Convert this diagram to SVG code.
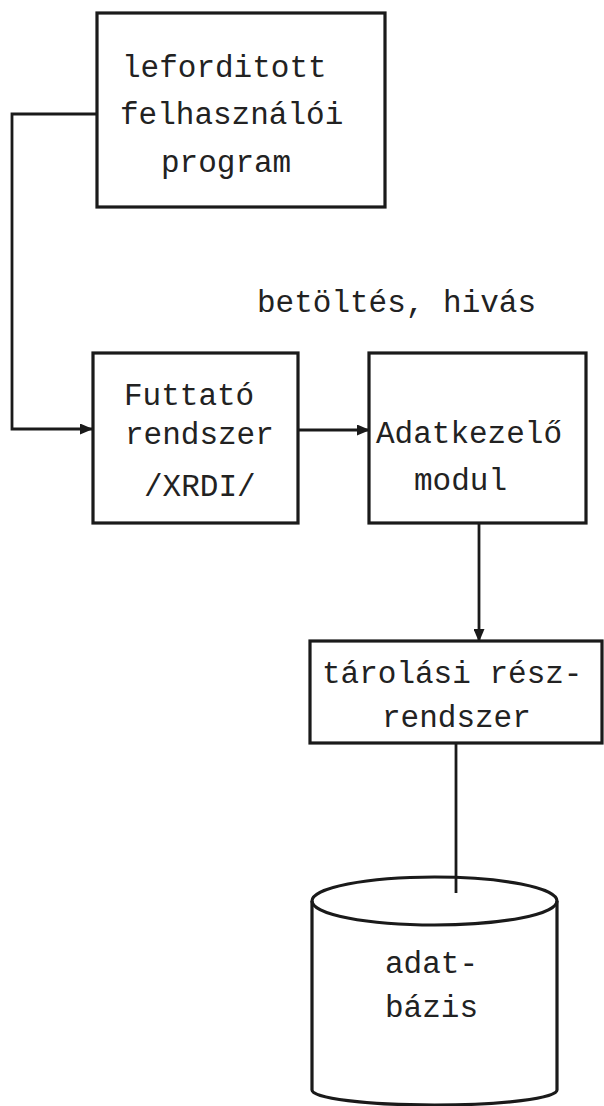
<svg xmlns="http://www.w3.org/2000/svg" width="604" height="1106" viewBox="0 0 604 1106">
<style>
.box{fill:none;stroke:#1a1a1a;stroke-width:3.2}
.ln{fill:none;stroke:#1a1a1a;stroke-width:2.8}
text{font-family:"Liberation Mono","Courier New",monospace;font-size:31px;fill:#222}
</style>
<defs>
<marker id="ah" markerWidth="13" markerHeight="11" refX="12" refY="5.5" orient="auto" markerUnits="userSpaceOnUse">
<path d="M0,0 L13,5.5 L0,11 Z" fill="#1a1a1a"/>
</marker>
</defs>
<rect width="604" height="1106" fill="#ffffff"/>
<g id="connectors">
<path class="ln" d="M97,114 H12 V429 H92" marker-end="url(#ah)"/>
<path class="ln" d="M298,430 H369" marker-end="url(#ah)"/>
<path class="ln" d="M479,523 V641" marker-end="url(#ah)"/>
<path class="ln" d="M456,743 V893"/>
</g>
<g id="label-betoltes">
<text x="257" y="312">betöltés, hivás</text>
</g>
<g id="node-program">
<rect class="box" x="97" y="13" width="288" height="194"/>
<text x="122" y="77">leforditott</text>
<text x="120" y="124">felhasználói</text>
<text x="161" y="172">program</text>
</g>
<g id="node-futtato">
<rect class="box" x="93" y="353" width="205" height="170"/>
<text x="124" y="405">Futtató</text>
<text x="125" y="444">rendszer</text>
<text x="144" y="496">/XRDI/</text>
</g>
<g id="node-adatkezelo">
<rect class="box" x="369" y="353" width="217" height="170"/>
<text x="376" y="443">Adatkezelő</text>
<text x="414" y="490">modul</text>
</g>
<g id="node-tarolasi">
<rect class="box" x="310" y="641" width="292" height="102"/>
<text x="322" y="683">tárolási rész-</text>
<text x="382" y="727">rendszer</text>
</g>
<g id="node-adatbazis">
<path class="box" d="M312,901 V1090 A122,15 0 0 0 557,1090 V901"/>
<ellipse class="box" cx="434.5" cy="901" rx="122.5" ry="24"/>
<text x="385" y="973">adat-</text>
<text x="385" y="1017">bázis</text>
</g>
</svg>
